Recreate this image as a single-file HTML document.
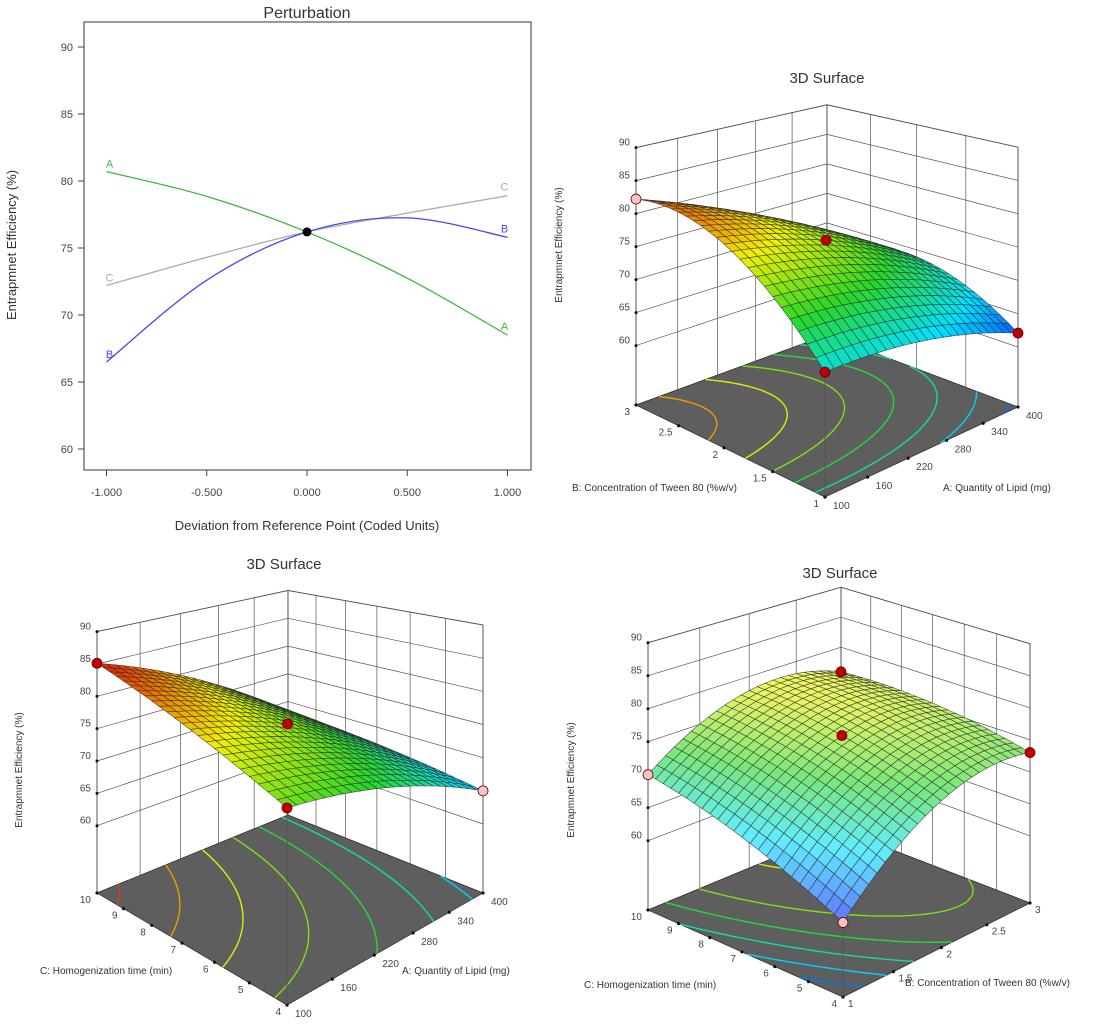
<!DOCTYPE html>
<html><head><meta charset="utf-8"><style>
html,body{margin:0;padding:0;background:#fff;}
svg text{font-family:"Liberation Sans",sans-serif;}
</style></head><body>
<svg id="svg" width="1108" height="1021" viewBox="0 0 1108 1021" xmlns="http://www.w3.org/2000/svg">
<g id="pert"></g>
<g id="p1"></g>
<g id="p2"></g>
<g id="p3"></g>
</svg>
<script>
// ---------- Perturbation data ----------
const pertX = [-1, -0.5, 0, 0.5, 1];
const pertA = [80.7, 78.85, 76.2, 72.75, 68.5];
const pertB = [66.5, 72.6, 76.2, 77.25, 75.8];
const pertC = [72.2, 74.3, 76.2, 77.6, 78.9];
const pertYTicks = [60, 65, 70, 75, 80, 85, 90];
const pertXTicks = [-1, -0.5, 0, 0.5, 1];
const pertXTickLabels = ["-1.000", "-0.500", "0.000", "0.500", "1.000"];

// ---------- Surface model coefficients (coded units) ----------
// [intercept, lin1, lin2, quad1, quad2, interaction]
const surf1Coef = [76.0, -5.5, 4.55, -1.6, -5.05, -2.8];
const surf2Coef = [75.4, -6.55, 3.5, -1.6, -0.65, -1.9];
const surf3Coef = [75.8, 4.725, 3.225, -4.8, -1.275, -1.775];
const zTicks = [60, 65, 70, 75, 80, 85, 90];
const tickA = ["100", "160", "220", "280", "340", "400"];
const tickB = ["1", "1.5", "2", "2.5", "3"];
const tickC = ["4", "5", "6", "7", "8", "9", "10"];
const contourLevels = [63, 66, 69, 72, 75, 78, 81, 84];

const NS = "http://www.w3.org/2000/svg";
function mk(tag, attrs, parent, txt) {
  const e = document.createElementNS(NS, tag);
  for (const k in attrs) e.setAttribute(k, attrs[k]);
  if (txt !== undefined) e.textContent = txt;
  parent.appendChild(e);
  return e;
}

// ---------- Perturbation plot ----------
(function () {
  const g = document.getElementById('pert');
  const X = v => 307 + v * 200.5;
  const Y = v => 449 - (v - 60) * 13.4;
  const fr = mk('rect', { x: 84, y: 22, width: 447, height: 448, fill: 'none', stroke: '#555', 'stroke-width': 1.2 }, g);
  
  
  const t = mk('text', { x: 307, y: 18, 'text-anchor': 'middle', 'font-size': 16, fill: '#333' }, g, 'Perturbation');
  
  
  pertYTicks.forEach(v => {
    mk('line', { x1: 78, x2: 84, y1: Y(v), y2: Y(v), stroke: '#444' }, g);
    const l = mk('text', { x: 73, y: Y(v) + 4, 'text-anchor': 'end', 'font-size': 11, fill: '#444' }, g, v);
    
    
  });
  pertXTicks.forEach((v, i) => {
    mk('line', { x1: X(v), x2: X(v), y1: 470, y2: 476, stroke: '#444' }, g);
    const l = mk('text', { x: X(v), y: 496, 'text-anchor': 'middle', 'font-size': 11, fill: '#444' }, g, pertXTickLabels[i]);
    
    
  });
  const xt = mk('text', { x: 307, y: 530, 'text-anchor': 'middle', 'font-size': 13, fill: '#333' }, g, 'Deviation from Reference Point (Coded Units)');
  
  
  const yt = mk('text', { x: 16, y: 245, 'text-anchor': 'middle', 'font-size': 13, fill: '#333', transform: 'rotate(-90 16 245)' }, g, 'Entrapmnet Efficiency (%)');
  
  
  function path(vals) {
    const p = pertX.map((x, i) => [X(x), Y(vals[i])]);
    let d = 'M' + p[0][0] + ',' + p[0][1];
    for (let i = 0; i < p.length - 1; i++) {
      const p0 = p[Math.max(0, i - 1)], p1 = p[i], p2 = p[i + 1], p3 = p[Math.min(p.length - 1, i + 2)];
      const c1 = [p1[0] + (p2[0] - p0[0]) / 6, p1[1] + (p2[1] - p0[1]) / 6];
      const c2 = [p2[0] - (p3[0] - p1[0]) / 6, p2[1] - (p3[1] - p1[1]) / 6];
      d += ' C' + c1 + ' ' + c2 + ' ' + p2;
    }
    return d;
  }
  const series = [['A', pertA, '#3cb83c'], ['C', pertC, '#aaaaaa'], ['B', pertB, '#4848f0']];
  series.forEach(([n, vals, col]) => {
    const pe = mk('path', { d: path(vals), fill: 'none', stroke: col, 'stroke-width': 1.3 }, g);
    
    
    const l1 = mk('text', { x: X(-1) + 3, y: Y(vals[0]) - 4, 'text-anchor': 'middle', 'font-size': 11, fill: col }, g, n);
    
    
    const l2 = mk('text', { x: X(1) - 3, y: Y(vals[4]) - 5, 'text-anchor': 'middle', 'font-size': 11, fill: col }, g, n);
    
    
  });
  const c = mk('circle', { cx: X(0), cy: Y(pertA[2]), r: 4.5, fill: '#000' }, g);
  
  
})();

// ---------- Surface plots ----------
const stops = [[0, [0, 40, 255]], [0.25, [0, 225, 255]], [0.5, [40, 215, 40]], [0.75, [240, 240, 0]], [1, [230, 40, 0]]];
function cmap(z, light) {
  let t = (z - 60.5) / 24; t = Math.max(0, Math.min(1, t));
  let i = 0; while (i < stops.length - 2 && t > stops[i + 1][0]) i++;
  const a = stops[i], b = stops[i + 1]; const f = (t - a[0]) / (b[0] - a[0]);
  const c = a[1].map((v, k) => v + (b[1][k] - v) * f).map(v => Math.round(v + (255 - v) * light));
  return 'rgb(' + c.join(',') + ')';
}
function homography(q) {
  const [x0, y0] = q[0], [x1, y1] = q[1], [x2, y2] = q[2], [x3, y3] = q[3];
  const dx1 = x1 - x2, dx2 = x3 - x2, dx3 = x0 - x1 + x2 - x3;
  const dy1 = y1 - y2, dy2 = y3 - y2, dy3 = y0 - y1 + y2 - y3;
  const den = dx1 * dy2 - dx2 * dy1;
  const g = (dx3 * dy2 - dx2 * dy3) / den, h = (dx1 * dy3 - dx3 * dy1) / den;
  return { a: x1 - x0 + g * x1, b: x3 - x0 + h * x3, c: x0, d: y1 - y0 + g * y1, e: y3 - y0 + h * y3, f: y0, g: g, h: h };
}
function surface(cfg) {
  const g = document.getElementById(cfg.id);
  const co = cfg.coef;
  const H = homography(cfg.quad);
  const K = cfg.leftScale * (1 + H.h);
  const F = (u, v) => { const a = 2 * u - 1, b = 2 * v - 1; return co[0] + co[1] * a + co[2] * b + co[3] * a * a + co[4] * b * b + co[5] * a * b; };
  const P = (u, v, z) => {
    const W = H.g * u + H.h * v + 1;
    return [(H.a * u + H.b * v + H.c) / W, (H.d * u + H.e * v + H.f) / W - (z - cfg.zf) * K / W];
  };
  const pt = p => p[0].toFixed(1) + ',' + p[1].toFixed(1);
  const t = mk('text', { x: cfg.title[0], y: cfg.title[1], 'text-anchor': 'middle', 'font-size': 15, fill: '#333' }, g, '3D Surface');
  
  
  const nu = cfg.uTicks.length - 1, nv = cfg.vTicks.length - 1;
  const w1 = mk('polygon', { points: [P(0, 1, cfg.zf), P(1, 1, cfg.zf), P(1, 1, 90), P(0, 1, 90)].map(pt).join(' '), fill: '#fff', stroke: '#333', 'stroke-width': 0.8 }, g);
  
  
  const w2 = mk('polygon', { points: [P(1, 0, cfg.zf), P(1, 1, cfg.zf), P(1, 1, 90), P(1, 0, 90)].map(pt).join(' '), fill: '#fff', stroke: '#333', 'stroke-width': 0.8 }, g);
  
  
  let d = '';
  zTicks.forEach(z => { d += 'M' + pt(P(0, 1, z)) + 'L' + pt(P(1, 1, z)) + 'L' + pt(P(1, 0, z)); });
  for (let i = 0; i <= nu; i++) d += 'M' + pt(P(i / nu, 1, cfg.zf)) + 'L' + pt(P(i / nu, 1, 90));
  for (let j = 0; j <= nv; j++) d += 'M' + pt(P(1, j / nv, cfg.zf)) + 'L' + pt(P(1, j / nv, 90));
  d += 'M' + pt(P(0, 1, cfg.zf)) + 'L' + pt(P(0, 1, 90)) + 'M' + pt(P(1, 0, cfg.zf)) + 'L' + pt(P(1, 0, 90));
  const gl = mk('path', { d: d, stroke: '#555', 'stroke-width': 0.7, fill: 'none' }, g);
  
  
  zTicks.forEach(z => {
    const p = P(0, 1, z);
    mk('circle', { cx: p[0], cy: p[1], r: 1.5, fill: '#111' }, g);
    const l = mk('text', { x: p[0] - 6, y: p[1] - 2, 'text-anchor': 'end', 'font-size': 10, fill: '#444' }, g, z);
    
    
  });
  const zt = mk('text', { x: cfg.zTitle[0], y: cfg.zTitle[1], 'text-anchor': 'middle', 'font-size': 10, fill: '#333', transform: 'rotate(-90 ' + cfg.zTitle[0] + ' ' + cfg.zTitle[1] + ')' }, g, 'Entrapmnet Efficiency (%)');
  
  
  const fl = mk('polygon', { points: [P(0, 0, cfg.zf), P(1, 0, cfg.zf), P(1, 1, cfg.zf), P(0, 1, cfg.zf)].map(pt).join(' '), fill: '#5e5e5e', stroke: '#333', 'stroke-width': 0.8 }, g);
  
  
  const N = 48;
  const gc = mk('g', {}, g);
  
  
  contourLevels.forEach(L => {
    let cd = '';
    for (let i = 0; i < N; i++) for (let j = 0; j < N; j++) {
      const u0 = i / N, u1 = (i + 1) / N, v0 = j / N, v1 = (j + 1) / N;
      const c = [[u0, v0, F(u0, v0)], [u1, v0, F(u1, v0)], [u1, v1, F(u1, v1)], [u0, v1, F(u0, v1)]];
      const pts = [];
      for (let k = 0; k < 4; k++) {
        const a = c[k], b = c[(k + 1) % 4];
        if ((a[2] - L) * (b[2] - L) < 0) {
          const f = (L - a[2]) / (b[2] - a[2]);
          pts.push(P(a[0] + (b[0] - a[0]) * f, a[1] + (b[1] - a[1]) * f, cfg.zf));
        }
      }
      if (pts.length >= 2) cd += 'M' + pt(pts[0]) + 'L' + pt(pts[1]);
      if (pts.length === 4) cd += 'M' + pt(pts[2]) + 'L' + pt(pts[3]);
    }
    if (cd) mk('path', { d: cd, stroke: cmap(L, 0), 'stroke-width': 1.4, fill: 'none' }, gc);
  });
  cfg.uTicks.forEach((lab, i) => {
    const p = P(i / nu, 0, cfg.zf);
    mk('circle', { cx: p[0], cy: p[1], r: 1.6, fill: '#111' }, g);
    const l = mk('text', { x: p[0] + cfg.uOff[0], y: p[1] + cfg.uOff[1], 'text-anchor': 'start', 'font-size': 10, fill: '#444' }, g, lab);
    
    
  });
  cfg.vTicks.forEach((lab, j) => {
    const p = P(0, j / nv, cfg.zf);
    mk('circle', { cx: p[0], cy: p[1], r: 1.6, fill: '#111' }, g);
    const l = mk('text', { x: p[0] - 6, y: p[1] + 10, 'text-anchor': 'end', 'font-size': 10, fill: '#444' }, g, lab);
    
    
  });
  const ut = mk('text', { x: cfg.uTitle[0], y: cfg.uTitle[1], 'text-anchor': 'start', 'font-size': 10, fill: '#333', 'xml:space': 'preserve' }, g, cfg.uName);
  
  
  const vt = mk('text', { x: cfg.vTitle[0], y: cfg.vTitle[1], 'text-anchor': 'start', 'font-size': 10, fill: '#333', 'xml:space': 'preserve' }, g, cfg.vName);
  
  
  mk('line', { x1: P(0, 0, cfg.zf)[0], y1: P(0, 0, cfg.zf)[1], x2: P(0, 0, F(0, 0))[0], y2: P(0, 0, F(0, 0))[1], stroke: '#555', 'stroke-width': 0.8 }, g);
  const M = 24, quads = [];
  for (let i = 0; i < M; i++) for (let j = 0; j < M; j++) {
    const u0 = i / M, u1 = (i + 1) / M, v0 = j / M, v1 = (j + 1) / M;
    const zc = F((u0 + u1) / 2, (v0 + v1) / 2);
    quads.push({ depth: u0 + v0, z: zc, pts: [P(u0, v0, F(u0, v0)), P(u1, v0, F(u1, v0)), P(u1, v1, F(u1, v1)), P(u0, v1, F(u0, v1))] });
  }
  quads.sort((a, b) => b.depth - a.depth);
  const gs = mk('g', {}, g);
  
  
  quads.forEach(q => {
    mk('polygon', { points: q.pts.map(pt).join(' '), fill: cmap(q.z, cfg.light), stroke: '#2a2a2a', 'stroke-width': 0.6, 'stroke-opacity': 0.8 }, gs);
  });
  cfg.dots.forEach(([u, v, col]) => {
    const p = P(u, v, F(u, v));
    const c = mk('circle', { cx: p[0], cy: p[1], r: 5, fill: col, stroke: '#600', 'stroke-width': 0.8 }, g);
    
    
  });
}
const RED = '#c00000', PINK = '#f6c4c4';
surface({ id: 'p1', coef: surf1Coef, quad: [[825, 497], [1018, 407], [827, 335], [636, 405]], leftScale: 6.6, zf: 51, light: 0,
  uTicks: tickA, vTicks: tickB, uName: 'A: Quantity of Lipid (mg)', vName: 'B: Concentration of Tween 80    (%w/v)',
  uOff: [8, 12], uTitle: [943, 491], vTitle: [572, 491], zTitle: [562, 245], title: [827, 83],
  dots: [[0.5, 0.5, RED], [0, 0, RED], [1, 0, RED], [0, 1, PINK]] });
surface({ id: 'p2', coef: surf2Coef, quad: [[287, 1005], [483, 893], [288, 815], [97, 893]], leftScale: 6.47, zf: 49.6, light: 0,
  uTicks: tickA, vTicks: tickC, uName: 'A: Quantity of Lipid (mg)', vName: 'C: Homogenization time (min)',
  uOff: [8, 12], uTitle: [402, 974], vTitle: [40, 974], zTitle: [22, 770], title: [284, 569],
  dots: [[0, 1, RED], [0.5, 0.5, RED], [0, 0, RED], [1, 0, PINK]] });
surface({ id: 'p3', coef: surf3Coef, quad: [[843, 997], [1030, 903], [841, 830], [648, 910]], leftScale: 6.6, zf: 49.5, light: 0.38,
  uTicks: tickB, vTicks: tickC, uName: 'B: Concentration of Tween 80    (%w/v)', vName: 'C: Homogenization time (min)',
  uOff: [5, 10], uTitle: [905, 986], vTitle: [584, 988], zTitle: [574, 780], title: [840, 578],
  dots: [[0, 0, PINK], [1, 0, RED], [0, 1, PINK], [1, 1, RED], [0.5, 0.5, RED]] });
</script>
</body></html>
